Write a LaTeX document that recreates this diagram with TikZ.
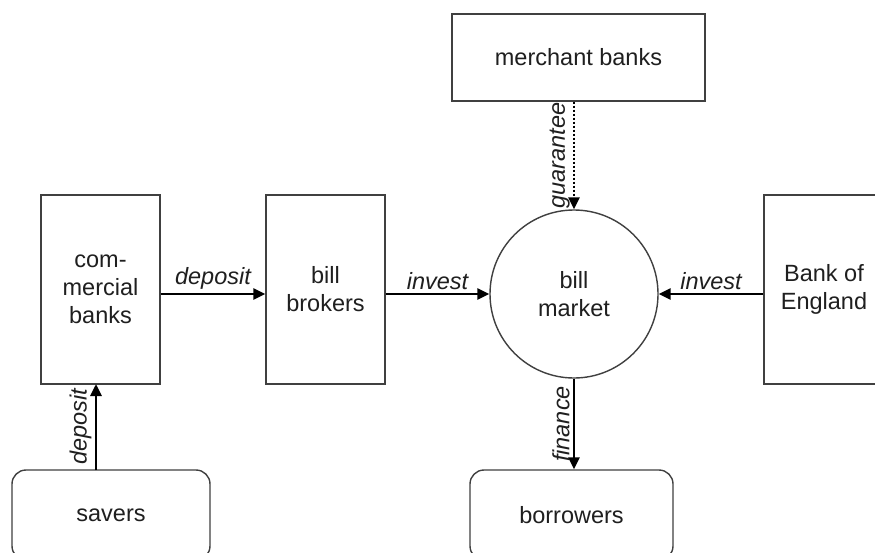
\documentclass[tikz,border=0pt]{standalone}
\usepackage{fontspec}
\setmainfont{Liberation Sans}
\usetikzlibrary{arrows.meta}
\begin{document}
\begin{tikzpicture}[x=1pt,y=-1pt,
  every node/.style={font=\fontsize{23.5}{28}\selectfont, text=black!88},
  box/.style={draw=black!75, line width=1.4pt, rectangle, inner sep=0pt, align=center},
  rbox/.style={box, rounded corners=14pt},
  flow/.style={draw=black, line width=2.8pt, -{Triangle[length=12pt,width=11pt]}},
  dotflow/.style={flow, line width=2.6pt, dash pattern=on 2pt off 2pt},
  lab/.style={font=\fontsize{23.5}{28}\selectfont\itshape, inner sep=3pt}]
\clip (0,0) rectangle (875,552);
\fill[white] (0,0) rectangle (875,552);
\node[box, minimum width=119pt, minimum height=189pt] (cb) at (100.5,289.5) {com-\\mercial\\banks};
\node[box, minimum width=119pt, minimum height=189pt] (bb) at (325.5,289.5) {bill\\brokers};
\node[box, circle, minimum size=168pt] (bm) at (574,294) {bill\\market};
\node[box, minimum width=120pt, minimum height=189pt] (boe) at (824,289.5) {Bank of\\England};
\node[box, minimum width=253pt, minimum height=87pt] (mb) at (578.5,57.5) {merchant banks};
\node[rbox, minimum width=198pt, minimum height=90pt] (sv) at (111,515) {savers};
\node[rbox, minimum width=203pt, minimum height=90pt] (bw) at (571.5,515) {borrowers};
\coordinate (svtop) at (96,470);
\coordinate (cbbot) at (96,384);
\draw[flow] (cb.east |- bm) -- node[lab, above] {deposit} (bb.west |- bm);
\draw[flow] (bb.east |- bm) -- node[lab, above] {invest} (bm.west);
\draw[flow] (boe.west |- bm) -- node[lab, above] {invest} (bm.east);
\draw[dotflow] (mb.south -| bm) -- node[lab, rotate=90, anchor=south] {guarantee} (bm.north);
\draw[flow] (bm.south) -- node[lab, rotate=90, anchor=south] {finance} (bw.north -| bm);
\draw[flow] (svtop) -- node[lab, rotate=90, anchor=south] {deposit} (cbbot);
\end{tikzpicture}
\end{document}
